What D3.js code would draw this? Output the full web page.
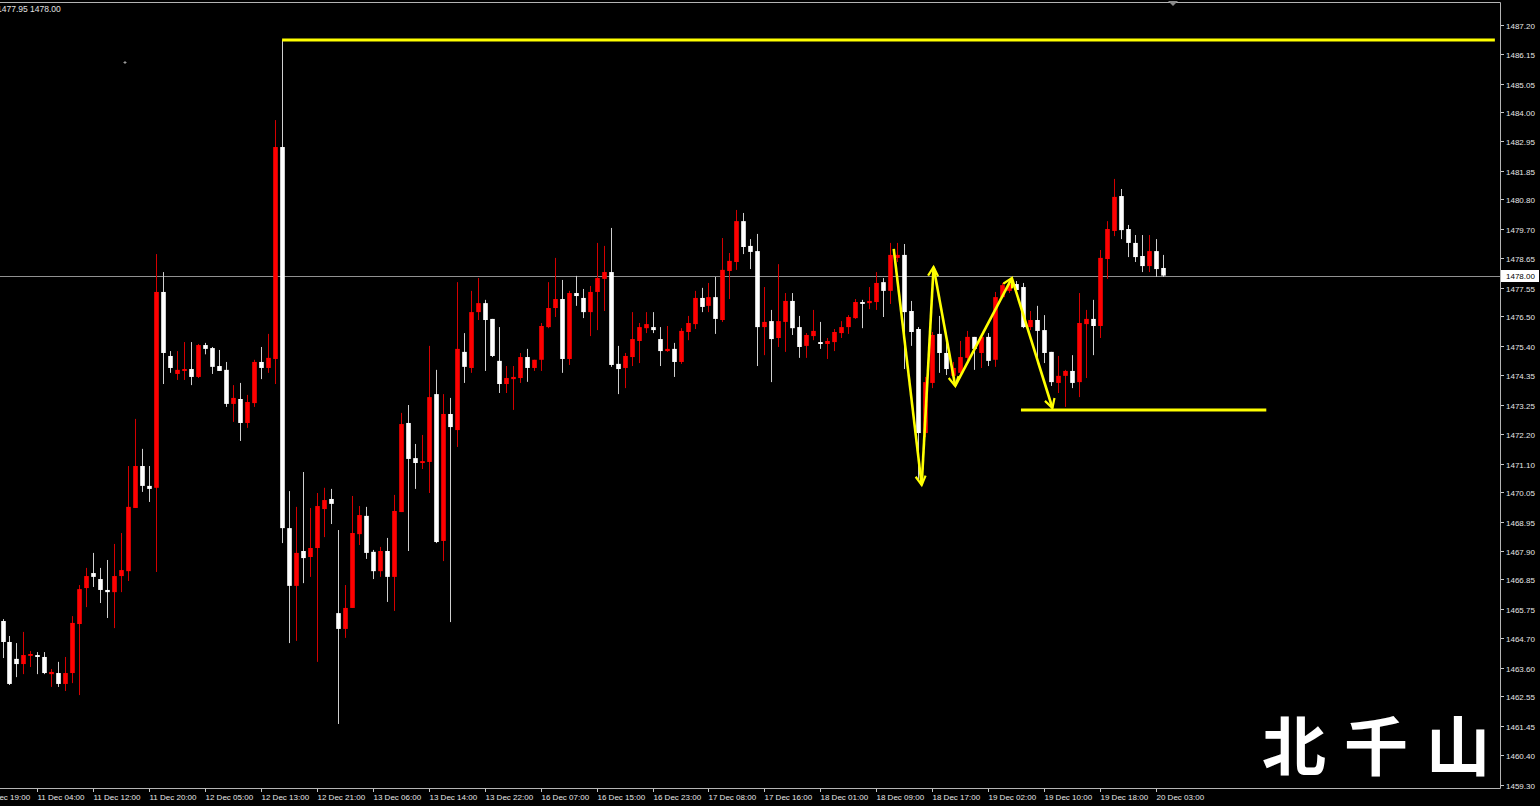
<!DOCTYPE html>
<html><head><meta charset="utf-8">
<script src="https://cdn.jsdelivr.net/npm/d3@7"></script>
<style>html,body{margin:0;padding:0;background:#000;overflow:hidden}</style>
</head><body>
<svg id="c" width="1540" height="806"></svg>
<script>
// ---------- DATA (XAUUSD H1) ----------
const opens = [
1465.32,1464.55,1463.93,1463.74,1464.04,1464.07,1464.00,1463.37,1463.41,1463.01,
1463.41,1465.21,1466.53,1467.08,1466.86,1466.46,1466.38,1466.97,1467.15,1469.47,
1471.01,1470.28,1470.21,1477.40,1475.05,1474.39,1474.50,1474.57,1474.28,1475.45,
1475.34,1474.68,1474.54,1473.29,1473.47,1472.59,1473.32,1474.83,1474.61,1474.94,
1482.72,1468.73,1466.61,1467.89,1467.67,1468.00,1469.43,1469.80,1465.61,1465.03,
1465.80,1468.51,1469.18,1467.86,1467.15,1467.89,1466.94,1469.32,1472.59,1471.30,
1471.12,1471.16,1473.65,1468.26,1472.92,1472.33,1475.20,1474.61,1476.66,1476.99,
1476.41,1474.87,1474.02,1474.20,1474.24,1475.01,1474.61,1474.91,1476.11,1476.81,
1477.14,1474.94,1477.36,1477.18,1476.66,1477.40,1477.88,1478.13,1474.76,1474.61,
1475.01,1475.60,1476.07,1476.11,1475.67,1475.23,1475.31,1474.83,1475.93,1476.22,
1477.18,1476.89,1477.21,1476.37,1478.17,1478.50,1480.00,1479.09,1478.90,1476.11,
1476.33,1475.71,1476.30,1477.07,1476.11,1475.42,1475.78,1475.56,1475.49,1475.56,
1475.89,1476.11,1476.44,1477.03,1476.99,1477.03,1477.76,1477.44,1478.65,1478.76,
1476.70,1476.04,1472.22,1474.06,1475.86,1475.16,1474.32,1474.43,1474.98,1475.75,
1475.16,1475.75,1474.91,1477.21,1477.44,1477.69,1477.58,1476.11,1476.37,1476.00,
1475.20,1474.06,1474.32,1474.50,1474.09,1476.22,1476.41,1476.15,1478.61,1479.64,
1480.92,1479.71,1479.20,1478.72,1478.35,1478.90,1478.28];
const highs = [
1465.39,1464.77,1464.51,1464.92,1464.22,1464.18,1464.18,1463.56,1463.82,1464.00,
1465.50,1466.64,1467.27,1467.82,1467.27,1467.56,1468.15,1468.55,1471.01,1472.74,
1471.64,1471.01,1478.79,1478.13,1475.23,1475.23,1475.56,1475.56,1475.49,1475.53,
1475.38,1475.27,1474.83,1473.98,1474.06,1473.62,1474.91,1475.38,1475.86,1483.71,
1486.65,1470.09,1469.51,1470.79,1469.47,1470.02,1470.21,1470.17,1468.66,1466.64,
1469.91,1469.54,1469.51,1467.93,1468.04,1468.37,1469.95,1472.96,1473.25,1471.82,
1472.15,1475.42,1474.54,1473.65,1473.51,1477.76,1475.89,1477.44,1477.91,1477.11,
1476.41,1476.11,1474.68,1474.68,1475.16,1475.31,1474.91,1476.26,1477.76,1478.65,
1477.84,1477.44,1477.99,1477.51,1477.62,1479.20,1479.09,1479.75,1475.42,1475.16,
1476.66,1476.26,1476.66,1476.66,1476.11,1476.15,1475.53,1476.07,1476.52,1477.44,
1477.55,1477.73,1477.95,1479.38,1478.83,1480.41,1480.30,1479.34,1479.53,1477.58,
1476.74,1478.42,1477.36,1477.36,1476.52,1475.89,1476.74,1476.30,1475.71,1476.04,
1476.33,1476.55,1477.14,1477.11,1477.58,1478.13,1477.91,1479.20,1479.20,1479.16,
1477.07,1476.11,1474.28,1475.93,1476.52,1475.56,1474.83,1475.60,1475.97,1475.75,
1475.82,1475.89,1477.40,1477.73,1477.80,1477.80,1477.73,1476.70,1476.89,1476.55,
1475.20,1475.05,1474.54,1475.08,1477.36,1476.74,1477.11,1478.94,1480.00,1481.55,
1481.18,1479.86,1479.49,1479.49,1479.49,1479.34,1478.76];
const lows = [
1463.96,1462.97,1463.26,1463.37,1463.63,1463.37,1463.37,1462.90,1462.90,1462.75,
1463.04,1462.60,1465.83,1466.57,1465.98,1465.43,1465.06,1466.38,1466.79,1469.47,
1470.06,1469.69,1467.12,1474.02,1474.43,1474.17,1474.17,1473.98,1474.24,1475.11,
1474.39,1474.50,1473.18,1472.63,1471.93,1472.41,1473.18,1474.20,1474.43,1474.02,
1468.18,1464.51,1464.59,1466.71,1466.94,1463.82,1468.40,1468.88,1461.54,1464.70,
1465.80,1468.11,1467.60,1466.86,1466.94,1466.02,1465.69,1469.32,1467.89,1470.17,
1470.90,1470.02,1468.18,1467.52,1465.28,1471.71,1474.06,1474.43,1476.37,1474.50,
1475.01,1473.69,1473.69,1473.07,1474.06,1474.10,1474.50,1474.50,1476.07,1476.48,
1474.43,1474.72,1476.89,1476.44,1475.78,1476.00,1476.70,1474.65,1473.65,1473.87,
1474.68,1474.79,1475.89,1475.89,1474.68,1475.20,1474.28,1474.76,1475.63,1476.04,
1476.66,1476.66,1475.86,1476.30,1477.14,1478.21,1478.79,1478.24,1474.68,1475.08,
1474.09,1475.38,1475.20,1475.82,1474.98,1474.98,1475.63,1475.31,1474.94,1475.23,
1475.71,1475.86,1476.41,1476.07,1476.77,1476.74,1476.48,1476.96,1478.50,1474.57,
1475.42,1470.50,1472.07,1473.87,1474.43,1474.35,1474.09,1474.28,1474.76,1474.54,
1474.61,1474.68,1474.65,1477.18,1477.36,1477.29,1476.07,1476.00,1475.01,1474.79,
1473.95,1473.69,1473.18,1473.87,1473.54,1474.24,1475.08,1475.71,1477.88,1479.45,
1479.34,1478.68,1478.50,1478.13,1478.13,1477.95,1477.95];
const closes = [
1464.55,1463.01,1463.74,1464.07,1464.11,1464.00,1463.41,1463.45,1463.01,1463.41,
1465.25,1466.49,1466.97,1466.94,1466.46,1466.38,1466.97,1467.19,1469.51,1471.01,
1470.28,1470.17,1477.40,1475.16,1474.61,1474.54,1474.57,1474.28,1475.45,1475.31,
1474.65,1474.50,1473.29,1473.51,1472.59,1473.36,1474.83,1474.61,1474.98,1482.72,
1468.73,1466.61,1467.82,1467.63,1468.00,1469.54,1469.76,1469.62,1465.03,1465.80,
1468.55,1469.21,1467.82,1467.15,1467.89,1466.94,1469.36,1472.55,1471.27,1471.12,
1471.19,1473.54,1468.22,1472.92,1472.44,1475.31,1474.65,1476.66,1476.99,1476.37,
1475.05,1474.02,1474.24,1474.28,1475.01,1474.61,1474.91,1476.15,1476.81,1477.14,
1474.94,1477.36,1477.25,1476.66,1477.40,1477.91,1478.13,1474.72,1474.57,1475.05,
1475.67,1476.11,1476.22,1476.00,1475.23,1475.31,1474.83,1475.97,1476.26,1477.18,
1476.85,1477.21,1476.41,1478.21,1478.54,1480.00,1479.05,1478.87,1476.11,1476.30,
1475.67,1476.33,1477.07,1476.07,1475.38,1475.82,1475.97,1475.49,1475.60,1475.93,
1476.11,1476.48,1477.03,1476.96,1477.07,1477.73,1477.44,1478.76,1478.76,1476.66,
1475.93,1472.22,1474.09,1475.82,1475.16,1474.57,1474.61,1475.01,1475.75,1475.31,
1475.75,1474.87,1477.21,1477.65,1477.69,1477.47,1476.11,1476.37,1475.97,1475.16,
1474.09,1474.32,1474.50,1474.06,1476.26,1476.41,1476.15,1478.65,1479.71,1480.89,
1479.67,1479.20,1478.68,1478.35,1478.90,1478.24,1478.00];

const priceTicks = [1487.20,1486.15,1485.05,1484.00,1482.95,1481.85,1480.80,1479.70,1478.65,
  1477.55,1476.50,1475.40,1474.35,1473.25,1472.20,1471.10,1470.05,1468.95,1467.90,1466.85,
  1465.75,1464.70,1463.60,1462.55,1461.45,1460.40,1459.30];
const timeLabels = ["10 Dec 19:00","11 Dec 04:00","11 Dec 12:00","11 Dec 20:00","12 Dec 05:00",
  "12 Dec 13:00","12 Dec 21:00","13 Dec 06:00","13 Dec 14:00","13 Dec 22:00","16 Dec 07:00",
  "16 Dec 15:00","16 Dec 23:00","17 Dec 08:00","17 Dec 16:00","18 Dec 01:00","18 Dec 09:00",
  "18 Dec 17:00","19 Dec 02:00","19 Dec 10:00","19 Dec 18:00","20 Dec 03:00"];
const timeLabelIndex = timeLabels.map((d,k)=> -3 + 8*k);
const lastPrice = 1478.00;
const headerText = "1477.95 1478.00";
const resistance = {from: 40, to: 213.5, price: 1486.65};
const support = {from: 145.7, to: 180.8, price: 1473.07};
const zigzag = [[127.5,1478.98],[131.5,1470.31],[133.2,1478.32],[136.3,1473.95],[144.4,1477.91],[150.2,1473.14]];
const watermark = "北千山";

// ---------- DRAW ----------
const W = 1540, H = 806;
const plotR = 1500, plotT = 2, plotB = 788;
const svg = d3.select("#c");
svg.append("rect").attr("width",W).attr("height",H).attr("fill","#000");

const x = d3.scaleLinear().domain([0, 166]).range([2.5, 1162.84]);
const y = d3.scaleLinear().domain([1459.30, 1487.20]).range([785, 25]);

const defs = svg.append("defs");
defs.append("clipPath").attr("id","clip").append("rect")
  .attr("x",0).attr("y",plotT).attr("width",plotR).attr("height",plotB-plotT);
defs.append("marker").attr("id","arr").attr("markerUnits","userSpaceOnUse")
  .attr("markerWidth",14).attr("markerHeight",14).attr("refX",10).attr("refY",6)
  .attr("orient","auto")
  .append("path").attr("d","M1,1 L10,6 L1,11").attr("fill","none")
  .attr("stroke","#ffff00").attr("stroke-width",2.2);

const fontF = "'Liberation Sans', Arial, sans-serif";

// frame
svg.append("path").attr("d",`M0,${plotT+0.5} H${plotR+0.5} V${plotB+0.5} H0`)
  .attr("fill","none").attr("stroke","#b4b4b4").attr("stroke-width",1);

const g = svg.append("g").attr("clip-path","url(#clip)");

// bid line
g.append("line").attr("x1",0).attr("x2",plotR).attr("y1",Math.round(y(lastPrice))+0.5).attr("y2",Math.round(y(lastPrice))+0.5)
  .attr("stroke","#909090").attr("stroke-width",1);

// candles
const data = opens.map((o,i)=>({i,o,h:highs[i],l:lows[i],c:closes[i]}));
const bw = 4.6;
const cg = g.append("g");
data.forEach(d=>{
  const up = d.c >= d.o;
  const cx = Math.round(x(d.i)) + 0.5;
  cg.append("line").attr("x1",cx).attr("x2",cx).attr("y1",y(d.h)).attr("y2",y(d.l))
    .attr("stroke", up ? "#d40000" : "#cfcfcf").attr("stroke-width",1);
  const top = y(Math.max(d.o,d.c)), bot = y(Math.min(d.o,d.c));
  cg.append("rect").attr("x",cx-bw/2).attr("y",top).attr("width",bw).attr("height",Math.max(1.2,bot-top))
    .attr("fill", up ? "#ff0000" : "#ffffff");
});

// yellow drawings
const yl = g.append("g").attr("stroke","#ffff00").attr("fill","none").attr("stroke-width",3);
yl.append("line").attr("x1",x(resistance.from)).attr("x2",x(resistance.to))
  .attr("y1",y(resistance.price)).attr("y2",y(resistance.price));
yl.append("line").attr("x1",x(support.from)).attr("x2",x(support.to))
  .attr("y1",y(support.price)).attr("y2",y(support.price));
for (let k=0;k<zigzag.length-1;k++){
  yl.append("line").attr("x1",x(zigzag[k][0])).attr("y1",y(zigzag[k][1]))
    .attr("x2",x(zigzag[k+1][0])).attr("y2",y(zigzag[k+1][1]))
    .attr("stroke-width",2.6).attr("marker-end","url(#arr)");
}

// small cursor cross
svg.append("path").attr("d","M123.5,62.5 h3 M125,61 v3").attr("stroke","#9a9a9a").attr("stroke-width",1);
// shift marker
svg.append("path").attr("d","M1168,1 L1178,1 L1173,6 Z").attr("fill","#8a8a8a");

// price axis
const pa = svg.append("g");
priceTicks.forEach(v=>{
  const yy = Math.round(y(v))+0.5;
  pa.append("line").attr("x1",plotR+1).attr("x2",plotR+4).attr("y1",yy).attr("y2",yy).attr("stroke","#c8c8c8");
  pa.append("text").attr("x",1506).attr("y",yy+3).text(v.toFixed(2))
    .attr("fill","#e6e6e6").attr("font-size",8).attr("font-family",fontF);
});
const ly = Math.round(y(lastPrice));
pa.append("rect").attr("x",1501).attr("y",ly-6).attr("width",38).attr("height",12).attr("fill","#fff");
pa.append("text").attr("x",1506).attr("y",ly+3).text(lastPrice.toFixed(2))
  .attr("fill","#000").attr("font-size",8).attr("font-family",fontF);

// time axis
const ta = svg.append("g");
timeLabels.forEach((t,k)=>{
  const xx = Math.round(x(timeLabelIndex[k]))+0.5;
  ta.append("line").attr("x1",xx).attr("x2",xx).attr("y1",plotB+1).attr("y2",plotB+4).attr("stroke","#c8c8c8");
  ta.append("text").attr("x",xx).attr("y",800).text(t)
    .attr("fill","#e6e6e6").attr("font-size",8).attr("font-family",fontF);
});

// header
svg.append("text").attr("x",-3).attr("y",12).text(headerText)
  .attr("fill","#e0e0e0").attr("font-size",8.5).attr("font-family",fontF);

// watermark
svg.append("text").attr("x",1262).attr("y",770).text(watermark)
  .attr("fill","#fff").attr("font-size",64).attr("font-weight",700)
  .attr("letter-spacing",18).attr("font-family","'Noto Sans CJK SC','Noto Sans CJK JP',sans-serif");
</script>
</body></html>
